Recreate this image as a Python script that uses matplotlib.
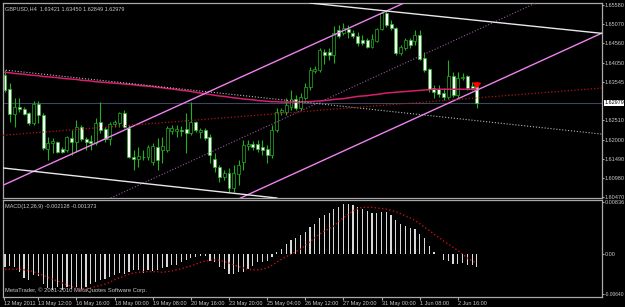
import matplotlib.pyplot as plt
import matplotlib.transforms as mtransforms
import numpy as np

# GBPUSD H4 candles (bar 0 = 12 May 2011, last bar = 3 Jun 2011)
opens = [1.6371, 1.6334, 1.6268, 1.6286, 1.6281, 1.6270, 1.6244, 1.6294, 1.6265, 1.6175,
         1.6191, 1.6193, 1.6175, 1.6172, 1.6204, 1.6193, 1.6233, 1.6201, 1.6196, 1.6191,
         1.6246, 1.6228, 1.6201, 1.6241, 1.6244, 1.6270, 1.6231, 1.6153, 1.6148, 1.6153,
         1.6153, 1.6140, 1.6180, 1.6172, 1.6172, 1.6222, 1.6222, 1.6225, 1.6228, 1.6217,
         1.6246, 1.6220, 1.6225, 1.6207, 1.6148, 1.6127, 1.6100, 1.6111, 1.6071, 1.6108,
         1.6140, 1.6183, 1.6188, 1.6188, 1.6180, 1.6175, 1.6159, 1.6225, 1.6273, 1.6273,
         1.6286, 1.6308, 1.6284, 1.6310, 1.6340, 1.6382, 1.6385, 1.6433, 1.6433, 1.6425,
         1.6491, 1.6483, 1.6494, 1.6483, 1.6475, 1.6465, 1.6465, 1.6446, 1.6462, 1.6494,
         1.6537, 1.6507, 1.6497, 1.6430, 1.6443, 1.6465, 1.6462, 1.6478, 1.6417, 1.6387,
         1.6337, 1.6334, 1.6324, 1.6313, 1.6369, 1.6318, 1.6364, 1.6369, 1.6342, 1.63421]
highs = [1.6385, 1.6350, 1.6310, 1.6310, 1.6286, 1.6273, 1.6302, 1.6302, 1.6270, 1.6207,
         1.6204, 1.6196, 1.6180, 1.6209, 1.6225, 1.6252, 1.6238, 1.6207, 1.6212, 1.6257,
         1.6300, 1.6233, 1.6246, 1.6252, 1.6273, 1.6278, 1.6238, 1.6172, 1.6180, 1.6172,
         1.6185, 1.6191, 1.6204, 1.6207, 1.6236, 1.6238, 1.6238, 1.6236, 1.6270, 1.6300,
         1.6249, 1.6231, 1.6231, 1.6215, 1.6164, 1.6132, 1.6119, 1.6124, 1.6132, 1.6145,
         1.6199, 1.6199, 1.6196, 1.6199, 1.6199, 1.6185, 1.6238, 1.6284, 1.6284, 1.6310,
         1.6332, 1.6318, 1.6324, 1.6350, 1.6393, 1.6395, 1.6443, 1.6441, 1.6443, 1.6502,
         1.6505, 1.6510, 1.6505, 1.6491, 1.6486, 1.6478, 1.6470, 1.6481, 1.6497, 1.6539,
         1.6545, 1.6518, 1.6499, 1.6451, 1.6470, 1.6470, 1.6491, 1.6491, 1.6433, 1.6390,
         1.6345, 1.6345, 1.6337, 1.6411, 1.6379, 1.6379, 1.6377, 1.6371, 1.6353, 1.63450]
lows = [1.6326, 1.6246, 1.6233, 1.6273, 1.6265, 1.6238, 1.6238, 1.6244, 1.6172, 1.6145,
        1.6164, 1.6164, 1.6164, 1.6167, 1.6159, 1.6167, 1.6196, 1.6172, 1.6172, 1.6185,
        1.6217, 1.6193, 1.6185, 1.6233, 1.6233, 1.6231, 1.6151, 1.6119, 1.6127, 1.6145,
        1.6145, 1.6132, 1.6119, 1.6137, 1.6167, 1.6215, 1.6207, 1.6209, 1.6164, 1.6212,
        1.6220, 1.6204, 1.6199, 1.6137, 1.6113, 1.6087, 1.6092, 1.6060, 1.6060, 1.6079,
        1.6119, 1.6172, 1.6172, 1.6167, 1.6159, 1.6137, 1.6151, 1.6220, 1.6265, 1.6265,
        1.6278, 1.6278, 1.6278, 1.6305, 1.6332, 1.6377, 1.6379, 1.6401, 1.6411, 1.6403,
        1.6470, 1.6478, 1.6470, 1.6470, 1.6449, 1.6451, 1.6443, 1.6443, 1.6459, 1.6491,
        1.6499, 1.6491, 1.6425, 1.6425, 1.6438, 1.6443, 1.6451, 1.6411, 1.6379, 1.6326,
        1.6310, 1.6313, 1.6305, 1.6308, 1.6313, 1.6310, 1.6358, 1.6332, 1.6332, 1.62849]
closes = [1.6332, 1.6268, 1.6286, 1.6281, 1.6268, 1.6244, 1.6294, 1.6265, 1.6177, 1.6191,
          1.6196, 1.6167, 1.6167, 1.6207, 1.6193, 1.6233, 1.6201, 1.6193, 1.6191, 1.6244,
          1.6225, 1.6201, 1.6241, 1.6246, 1.6270, 1.6233, 1.6153, 1.6148, 1.6156, 1.6154,
          1.6180, 1.6183, 1.6145, 1.6183, 1.6231, 1.6231, 1.6228, 1.6222, 1.6217, 1.6246,
          1.6225, 1.6225, 1.6204, 1.6159, 1.6127, 1.6100, 1.6111, 1.6071, 1.6111, 1.6132,
          1.6185, 1.6188, 1.6180, 1.6175, 1.6172, 1.6159, 1.6225, 1.6273, 1.6278, 1.6292,
          1.6308, 1.6284, 1.6313, 1.6340, 1.6385, 1.6387, 1.6438, 1.6425, 1.6425, 1.6483,
          1.6475, 1.6497, 1.6486, 1.6475, 1.6457, 1.6457, 1.6446, 1.6467, 1.6494, 1.6537,
          1.6505, 1.6497, 1.6430, 1.6446, 1.6465, 1.6451, 1.6478, 1.6414, 1.6385, 1.6334,
          1.6326, 1.6321, 1.6313, 1.6369, 1.6318, 1.6364, 1.6366, 1.6337, 1.6337, 1.62979]

# moving average (pink line)
ma = [1.6379, 1.6378, 1.6376, 1.6375, 1.6374, 1.6372, 1.6371, 1.6370, 1.6368, 1.6367,
      1.6366, 1.6365, 1.6363, 1.6362, 1.6361, 1.6360, 1.6358, 1.6357, 1.6356, 1.6354,
      1.6353, 1.6352, 1.6351, 1.6350, 1.6349, 1.6348, 1.6347, 1.6346, 1.6344, 1.6343,
      1.6342, 1.6341, 1.6339, 1.6338, 1.6336, 1.6335, 1.6333, 1.6331, 1.6330, 1.6328,
      1.6326, 1.6324, 1.6322, 1.6320, 1.6318, 1.6316, 1.6315, 1.6313, 1.6311, 1.6310,
      1.6308, 1.6307, 1.6306, 1.6304, 1.6303, 1.6302, 1.6301, 1.6301, 1.6300, 1.6300,
      1.6300, 1.6300, 1.6300, 1.6301, 1.6301, 1.6302, 1.6303, 1.6304, 1.6305, 1.6307,
      1.6308, 1.6309, 1.6311, 1.6313, 1.6315, 1.6316, 1.6317, 1.6319, 1.6320, 1.6322,
      1.6324, 1.6325, 1.6326, 1.6327, 1.6328, 1.6329, 1.6330, 1.6331, 1.6332, 1.6333,
      1.6334, 1.6334, 1.6334, 1.6334, 1.6334, 1.6334, 1.6334, 1.6334, 1.6334, 1.6334]

# MACD(12,26,9)
macd_main = [-0.0021, -0.0019, -0.0020, -0.0028, -0.0038, -0.0041, -0.0033, -0.0035, -0.0047, -0.0054,
             -0.0057, -0.0053, -0.0057, -0.0053, -0.0055, -0.0052, -0.0056, -0.0052, -0.0048, -0.0044,
             -0.0041, -0.0040, -0.0037, -0.0033, -0.0030, -0.0031, -0.0028, -0.0025, -0.0026, -0.0030,
             -0.0025, -0.0027, -0.0025, -0.0022, -0.0021, -0.0017, -0.0017, -0.0012, -0.0009, -0.0006,
             -0.0005, -0.0003, -0.0003, -0.0011, -0.0013, -0.0020, -0.0024, -0.0031, -0.0032, -0.0029,
             -0.0029, -0.0024, -0.0019, -0.0013, -0.0013, -0.0011, -0.0005, 0.0003, 0.0009, 0.0016,
             0.0022, 0.0026, 0.0031, 0.0036, 0.0044, 0.0049, 0.0058, 0.0062, 0.0066, 0.0072,
             0.0076, 0.0080, 0.0080, 0.0079, 0.0076, 0.0072, 0.0069, 0.0066, 0.0066, 0.0067,
             0.0067, 0.0063, 0.0054, 0.0049, 0.0045, 0.0042, 0.0040, 0.0033, 0.0026, 0.0013,
             0.0004, 0.0001, -0.0010, -0.0011, -0.0015, -0.0015, -0.0014, -0.0017, -0.0018, -0.002128]
macd_signal = [-0.0024, -0.0024, -0.0024, -0.0024, -0.0025, -0.0026, -0.0028, -0.0031, -0.0034, -0.0037,
               -0.0040, -0.0043, -0.0046, -0.0049, -0.0052, -0.0054, -0.0055, -0.0055, -0.0054, -0.0052,
               -0.0050, -0.0048, -0.0045, -0.0041, -0.0038, -0.0035, -0.0032, -0.0030, -0.0029, -0.0028,
               -0.0028, -0.0028, -0.0028, -0.0029, -0.0028, -0.0027, -0.0025, -0.0023, -0.0021, -0.0019,
               -0.0016, -0.0013, -0.0011, -0.0010, -0.0009, -0.0010, -0.0012, -0.0014, -0.0017, -0.0020,
               -0.0022, -0.0024, -0.0025, -0.0025, -0.0024, -0.0022, -0.0018, -0.0013, -0.0008, -0.0004,
               0.0000, 0.0004, 0.0008, 0.0014, 0.0020, 0.0026, 0.0032, 0.0037, 0.0041, 0.0045,
               0.0052, 0.0058, 0.0064, 0.0069, 0.0073, 0.0075, 0.0075, 0.0075, 0.0074, 0.0073,
               0.0072, 0.0070, 0.0068, 0.0065, 0.0061, 0.0058, 0.0054, 0.0049, 0.0043, 0.0038,
               0.0032, 0.0027, 0.0021, 0.0016, 0.0011, 0.0006, 0.0000, -0.0006, -0.0011, -0.001373]

# drawn objects: (bar, price) anchor pairs
pink_upper = [(0, 1.6081), (80, 1.6542)]
pink_lower = [(50, 1.6048), (125, 1.6482)]
pink_mid = [(22.6, 1.6047), (111.3, 1.6563)]
white_upper = [(62, 1.6566), (125, 1.6483)]
white_lower = [(0, 1.6124), (56, 1.6046)]
white_mid = [(0, 1.6385), (125, 1.6215)]
red_dotted = [(0, 1.6212), (125, 1.6337)]
bid_price = 1.62979
arrow_bar, arrow_price = 99, 1.6345

price_ticks = [1.65580, 1.65070, 1.64560, 1.64050, 1.63545, 1.62510, 1.62000, 1.61490, 1.60980, 1.60470]
macd_ticks = [0.00836, 0.0, -0.00640]
macd_tick_labels = ['0.00836', '0.00', '-0.00640']
time_labels = ['12 May 2011', '13 May 12:00', '16 May 16:00', '18 May 00:00', '19 May 08:00',
               '20 May 16:00', '23 May 20:00', '25 May 04:00', '26 May 12:00', '27 May 20:00',
               '31 May 00:00', '1 Jun 08:00', '2 Jun 16:00']
time_label_bars = [-0.3, 7, 15, 23, 31, 39, 47, 55, 63, 71, 79, 87, 95]

plt.rcParams['font.family'] = 'Liberation Sans'
txt = '#c8c8c8'
frame = '#a8a8a8'
green = '#1fb41f'
fs_small = 4.0
fs_time = 4.0

fig = plt.figure(figsize=(6.25, 3.07), dpi=100, facecolor='black')
ax = fig.add_axes([0.0048, 0.355, 0.958, 0.635], facecolor='black')
ax2 = fig.add_axes([0.0048, 0.033, 0.958, 0.316], facecolor='black', sharex=ax)

idx = np.arange(len(opens))
o = np.array(opens)
c = np.array(closes)
bull = c >= o

# candles
ax.vlines(idx, lows, highs, color=green, lw=0.8, zorder=2)
bottoms = np.minimum(o, c)
heights = np.maximum(np.abs(c - o), 0.00006)
ax.bar(idx, heights, bottom=bottoms, width=0.62,
       color=np.where(bull, 'black', 'white'), edgecolor=green, linewidth=0.5, zorder=3)

# moving average and bid line
ax.plot(idx, ma, color='#d81e6e', lw=1.1, zorder=4)
ax.axhline(bid_price, color='#3c4660', lw=0.8, zorder=1)

# channels and trendlines
for pts, col, ls, lw in [(pink_upper, '#ee82ee', '-', 1.0), (pink_lower, '#ee82ee', '-', 1.0),
                         (pink_mid, '#9a5a9a', ':', 0.8), (white_upper, '#e8e8e8', '-', 1.0),
                         (white_lower, '#e8e8e8', '-', 1.0), (white_mid, '#b8b8b8', ':', 0.8),
                         (red_dotted, '#b01515', ':', 0.9)]:
    ax.axline(pts[0], pts[1], color=col, ls=ls, lw=lw, zorder=5)

ax.annotate('', xy=(arrow_bar, arrow_price - 0.0006), xytext=(arrow_bar, arrow_price + 0.0006),
            arrowprops=dict(facecolor='red', edgecolor='red', width=1.4, headwidth=5, headlength=3),
            zorder=6)

ax.set_xlim(-0.42, 125.2)
ax.set_ylim(1.60446, 1.65633)
ax.yaxis.tick_right()
ax.set_yticks(price_ticks)
ax.set_yticklabels(['%.5f' % p for p in price_ticks])
ax.tick_params(axis='y', colors=frame, labelcolor=txt, labelsize=fs_small, length=1.5, pad=0.5)
ax.tick_params(axis='x', bottom=False, labelbottom=False)
for s in ax.spines.values():
    s.set_color(frame)
    s.set_linewidth(0.9)

trans = mtransforms.blended_transform_factory(ax.transAxes, ax.transData)
ax.text(1.004, bid_price, '%.5f' % bid_price, transform=trans, fontsize=fs_small, color='black',
        va='center', ha='left', bbox=dict(facecolor='white', edgecolor='none', pad=0.4), clip_on=False)
ax.text(0.004, 0.985, 'GBPUSD,H4  %.5f %.5f %.5f %.5f' % (opens[-1], highs[-1], lows[-1], closes[-1]),
        transform=ax.transAxes, fontsize=fs_small, color=txt, va='top', ha='left')

# MACD panel
ax2.bar(idx, macd_main, width=0.25, color='#d8d8d8', zorder=2)
ax2.plot(idx, macd_signal, color='#c01010', ls=':', lw=1.0, zorder=3)
ax2.set_ylim(-0.00683, 0.00869)
ax2.yaxis.tick_right()
ax2.set_yticks(macd_ticks)
ax2.set_yticklabels(macd_tick_labels)
ax2.tick_params(axis='y', colors=frame, labelcolor=txt, labelsize=fs_small, length=1.5, pad=0.5)
ax2.get_yticklabels()[-1].set_fontsize(3.5)
ax2.set_xticks(time_label_bars)
ax2.set_xticklabels(time_labels, ha='left')
ax2.tick_params(axis='x', colors=frame, labelcolor=txt, labelsize=fs_time, length=2, pad=1)
for s in ax2.spines.values():
    s.set_color(frame)
    s.set_linewidth(0.9)
ax2.text(0.004, 0.96, 'MACD(12,26,9) %.6f %.6f' % (macd_main[-1], macd_signal[-1]),
         transform=ax2.transAxes, fontsize=fs_small, color=txt, va='top', ha='left')
ax2.text(0.004, 0.04, 'MetaTrader, \u00a9 2001-2010 MetaQuotes Software Corp.',
         transform=ax2.transAxes, fontsize=4.2, color=txt, va='bottom', ha='left')

fig.savefig('out.png', dpi=100, facecolor='black')
